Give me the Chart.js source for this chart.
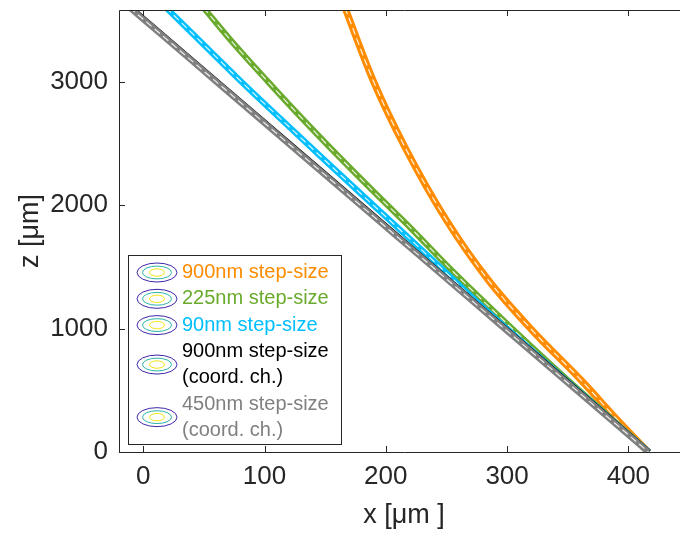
<!DOCTYPE html>
<html>
<head>
<meta charset="utf-8">
<script src="https://cdn.jsdelivr.net/npm/chart.js@4.4.0/dist/chart.umd.min.js"></script>
<style>
  html, body { margin: 0; padding: 0; background: #fff; overflow: hidden; }
</style>
</head>
<body>
<canvas id="chart" width="700" height="536"></canvas>
<script>
const zLevels = [3600, 3300, 3000, 2700, 2400, 2100, 1800, 1500, 1200, 900, 600, 300, 0];

// x position (µm) of each track at those depths
const grayX  = [-11.3, 24.4, 60.0, 95.7, 131.3, 167.0, 202.6, 238.3, 273.9, 309.6, 345.2, 380.9, 416.5];
const blackX = [-10.1, 25.6, 61.2, 96.9, 132.5, 168.2, 203.8, 239.5, 275.1, 310.8, 346.4, 381.9, 417.2];
const blueX  = [18.7, 49.8, 80.8, 113.1, 145.7, 178.6, 211.7, 244.5, 277.0, 311.4, 346.4, 381.6, 416.8];
const greenX = [49.6, 75.2, 102.8, 131.1, 160.5, 190.9, 221.9, 251.5, 282.8, 315.0, 348.1, 382.4, 417.0];

// the 900nm track bends a lot, so it has its own depths
const orangeZ = [3600, 3013, 2446, 1879, 1393, 988, 583, 259, 0];
const orangeX = [166.3, 189.4, 217.0, 249.9, 284.5, 320.5, 360.9, 391.1, 416.2];

const legendLabels = [
  ["900nm step-size"],
  ["225nm step-size"],
  ["90nm step-size"],
  ["900nm step-size", "(coord. ch.)"],
  ["450nm step-size", "(coord. ch.)"]
];
const colors = ["#ff8c00", "#6aaa2c", "#00bfff", "#000000", "#808080"];

const xTicks = [0, 100, 200, 300, 400];
const zTicks = [0, 1000, 2000, 3000];

function track(xs, zs) {
  return xs.map((x, i) => ({ x: x, y: zs[i] }));
}

// each track = thick coloured band + thin white dashed core
function band(label, color, pts, width, order) {
  return { label: label, data: pts, borderColor: color, borderWidth: width,
           pointRadius: 0, cubicInterpolationMode: "monotone", fill: false, order: order };
}
function core(pts, order) {
  return { label: "", data: pts, borderColor: "rgba(255,255,255,0.85)", borderWidth: 1.2,
           borderDash: [7, 4], pointRadius: 0, cubicInterpolationMode: "monotone",
           fill: false, order: order };
}

const orangePts = track(orangeX, orangeZ);
const greenPts = track(greenX, zLevels);
const bluePts = track(blueX, zLevels);
const blackPts = track(blackX, zLevels);
const grayPts = track(grayX, zLevels);

const FONT = '"Liberation Sans", Arial, Helvetica, sans-serif';
const AXIS = "#262626";

// box, inward ticks
const axesFrame = {
  id: "axesFrame",
  afterDatasetsDraw(chart) {
    const { ctx, chartArea: a, scales } = chart;
    ctx.save();
    ctx.strokeStyle = AXIS;
    ctx.lineWidth = 1;
    ctx.beginPath();
    ctx.rect(Math.round(a.left) + 0.5, Math.round(a.top) + 0.5,
             Math.round(a.right - a.left), Math.round(a.bottom - a.top));
    xTicks.forEach(v => {
      const px = Math.round(scales.x.getPixelForValue(v)) + 0.5;
      ctx.moveTo(px, a.bottom); ctx.lineTo(px, a.bottom - 6);
      ctx.moveTo(px, a.top); ctx.lineTo(px, a.top + 6);
    });
    zTicks.forEach(v => {
      const py = Math.round(scales.y.getPixelForValue(v)) + 0.5;
      ctx.moveTo(a.left, py); ctx.lineTo(a.left + 6, py);
      ctx.moveTo(a.right, py); ctx.lineTo(a.right - 6, py);
    });
    ctx.stroke();
    ctx.restore();
  }
};

function contourIcon(ctx, cx, cy) {
  const rings = [[20, 9.5, "#3e26a8"], [14.5, 6.4, "#2cb5a6"], [7.5, 3.7, "#f2e51a"]];
  rings.forEach(r => {
    ctx.beginPath();
    ctx.strokeStyle = r[2];
    ctx.lineWidth = 1;
    ctx.ellipse(cx, cy, r[0], r[1], 0, 0, Math.PI * 2);
    ctx.stroke();
  });
}

// legend sitting inside the axes, lower left
const insideLegend = {
  id: "insideLegend",
  afterDraw(chart) {
    const ctx = chart.ctx;
    const bx = 128.5, by = 255.5, bw = 213, bh = 189;
    ctx.save();
    ctx.fillStyle = "#fff";
    ctx.fillRect(bx, by, bw, bh);
    ctx.strokeStyle = AXIS;
    ctx.lineWidth = 1;
    ctx.strokeRect(bx, by, bw, bh);
    ctx.font = "20px " + FONT;
    ctx.textBaseline = "middle";
    ctx.textAlign = "left";
    let y = 272.5;
    const lineH = 26.3;
    legendLabels.forEach((lines, i) => {
      const iconY = y + (lines.length - 1) * lineH / 2;
      contourIcon(ctx, 157, iconY);
      ctx.fillStyle = colors[i];
      lines.forEach((t, j) => ctx.fillText(t, 182, y + j * lineH));
      y += lines.length * lineH;
    });
    ctx.restore();
  }
};

new Chart(document.getElementById("chart"), {
  type: "line",
  data: {
    datasets: [
      band(legendLabels[0].join(" "), colors[0], orangePts, 7, 9), core(orangePts, 8),
      band(legendLabels[1].join(" "), colors[1], greenPts, 6, 7), core(greenPts, 6),
      band(legendLabels[2].join(" "), colors[2], bluePts, 6, 5), core(bluePts, 4),
      band(legendLabels[3].join(" "), colors[3], blackPts, 5, 3), core(blackPts, 2),
      band(legendLabels[4].join(" "), colors[4], grayPts, 6, 1), core(grayPts, 0)
    ]
  },
  options: {
    responsive: false,
    animation: false,
    layout: { padding: { top: 10, right: 11, left: 0, bottom: 0 } },
    plugins: { legend: { display: false }, tooltip: { enabled: false } },
    scales: {
      x: {
        type: "linear",
        min: -20,
        max: 450,
        afterBuildTicks: s => { s.ticks = xTicks.map(v => ({ value: v })); },
        afterFit: s => { s.height = 84; s.paddingLeft = 0; s.paddingRight = 0; },
        grid: { display: false, drawTicks: false },
        border: { display: false },
        ticks: { padding: 9, color: AXIS, font: { family: FONT, size: 26 },
                 callback: v => String(v) },
        title: { display: true, text: "x [\u03bcm ]", color: AXIS,
                 font: { family: FONT, size: 27 }, padding: { top: 0, bottom: 4 } }
      },
      y: {
        type: "linear",
        min: 0,
        max: 3580,
        afterBuildTicks: s => { s.ticks = zTicks.map(v => ({ value: v })); },
        afterFit: s => { s.width = 119; s.paddingTop = 0; s.paddingBottom = 0; },
        grid: { display: false, drawTicks: false },
        border: { display: false },
        ticks: { padding: 11, color: AXIS, font: { family: FONT, size: 26 },
                 callback: v => String(v) },
        title: { display: true, text: "z [\u03bcm]", color: AXIS,
                 font: { family: FONT, size: 27 }, padding: { top: 14, bottom: 0 } }
      }
    }
  },
  plugins: [axesFrame, insideLegend]
});
</script>
</body>
</html>
